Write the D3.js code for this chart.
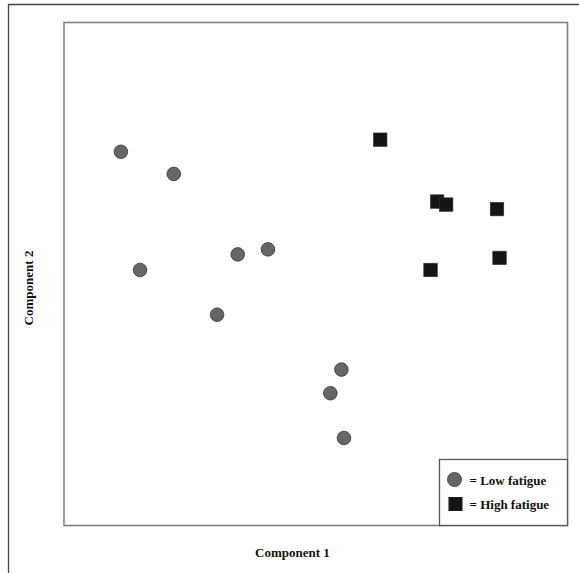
<!DOCTYPE html>
<html>
<head>
<meta charset="utf-8">
<script src="https://cdn.jsdelivr.net/npm/d3@7"></script>
<style>
  body { margin: 0; background: #fff; }
  text { font-family: "Liberation Serif", "Times New Roman", serif; font-weight: bold; fill: #111; }
</style>
</head>
<body>
<div id="chart"></div>
<script>
// component scores (arbitrary 0-10 units)
const lowX = [1.13, 2.18, 1.51, 3.45, 4.05, 3.04, 5.51, 5.29, 5.56];
const lowY = [7.43, 6.99, 5.08, 5.39, 5.49, 4.19, 3.10, 2.63, 1.74];
const highX = [6.28, 7.41, 7.59, 8.60, 8.65, 7.28];
const highY = [7.67, 6.44, 6.38, 6.29, 5.32, 5.08];
const legendLabels = ["= Low fatigue", "= High fatigue"];

const W = 579, H = 573;
const plot = { left: 64, top: 22.5, right: 567.5, bottom: 525.5 };

const svg = d3.select("#chart").append("svg")
    .attr("width", W)
    .attr("height", H);

// outer frame: only left and top edges show
svg.append("path")
    .attr("d", `M8.5,${H}V4.5H${W}`)
    .attr("fill", "none")
    .attr("stroke", "#444")
    .attr("stroke-width", 1.3);

const x = d3.scaleLinear().domain([0, 10]).range([plot.left, plot.right]);
const y = d3.scaleLinear().domain([0, 10]).range([plot.bottom, plot.top]);

svg.append("rect")
    .attr("x", plot.left)
    .attr("y", plot.top)
    .attr("width", plot.right - plot.left)
    .attr("height", plot.bottom - plot.top)
    .attr("fill", "none")
    .attr("stroke", "#808080")
    .attr("stroke-width", 1.6);

const low = lowX.map((v, i) => ({ x: v, y: lowY[i] }));
const high = highX.map((v, i) => ({ x: v, y: highY[i] }));

svg.selectAll(".low")
    .data(low)
    .enter().append("circle")
    .attr("class", "low")
    .attr("cx", d => x(d.x))
    .attr("cy", d => y(d.y))
    .attr("r", 6.8)
    .attr("fill", "#666")
    .attr("stroke", "#333")
    .attr("stroke-width", 0.8);

const sq = 13.5;
svg.selectAll(".high")
    .data(high)
    .enter().append("rect")
    .attr("class", "high")
    .attr("x", d => x(d.x) - sq / 2)
    .attr("y", d => y(d.y) - sq / 2)
    .attr("width", sq)
    .attr("height", sq)
    .attr("fill", "#151515")
    .attr("stroke", "#333")
    .attr("stroke-width", 0.6);

// axis titles
svg.append("text")
    .attr("x", 292.5)
    .attr("y", 557)
    .attr("text-anchor", "middle")
    .style("font-size", "13px")
    .text("Component 1");

svg.append("text")
    .attr("transform", "translate(32.5,288) rotate(-90)")
    .attr("text-anchor", "middle")
    .style("font-size", "13px")
    .text("Component 2");

// legend
const lg = svg.append("g").attr("transform", "translate(439.5,459.5)");
lg.append("rect")
    .attr("width", 128)
    .attr("height", 66)
    .attr("fill", "#fff")
    .attr("stroke", "#555")
    .attr("stroke-width", 1.3);

lg.append("circle")
    .attr("cx", 15)
    .attr("cy", 20)
    .attr("r", 7)
    .attr("fill", "#666")
    .attr("stroke", "#333")
    .attr("stroke-width", 0.8);

lg.append("rect")
    .attr("x", 9)
    .attr("y", 37.5)
    .attr("width", 14)
    .attr("height", 14)
    .attr("fill", "#151515");

lg.selectAll(".lbl")
    .data(legendLabels)
    .enter().append("text")
    .attr("class", "lbl")
    .attr("x", 30)
    .attr("y", (d, i) => 25 + i * 24.5)
    .style("font-size", "13px")
    .text(d => d);
</script>
</body>
</html>
